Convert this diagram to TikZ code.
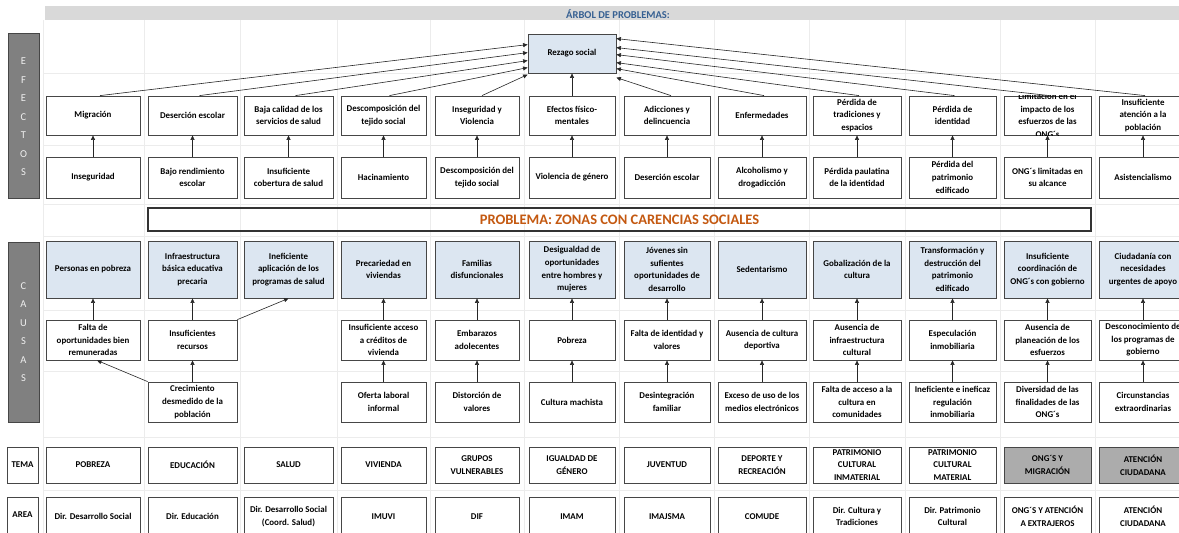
\documentclass[tikz,border=0pt]{standalone}
\usepackage{fontspec}
\setmainfont{Carlito}
\usetikzlibrary{arrows.meta,calc}
\definecolor{bluefill}{RGB}{220,230,241}
\definecolor{boxline}{RGB}{70,70,70}
\definecolor{titleblue}{RGB}{54,96,146}
\definecolor{probtxt}{RGB}{196,89,17}
\definecolor{sidefill}{RGB}{128,128,128}
\definecolor{temagray}{RGB}{172,172,172}
\definecolor{hdr}{RGB}{217,217,217}
\definecolor{gridc}{RGB}{236,236,236}
\tikzset{
  cellbox/.style={draw=boxline, line width=0.8pt, inner sep=0pt},
  bluebox/.style={cellbox, fill=bluefill},
  graybox/.style={cellbox, fill=temagray},
  celltext/.style={align=center, inner sep=0pt, font=\fontsize{8.9}{12.6}\selectfont\bfseries, text=black},
  arr/.style={-{Triangle[length=4.5pt,width=4pt]}, line width=0.6pt, black!85},
  sidebar/.style={draw=gray!55!black, fill=sidefill, line width=0.8pt},
  sideletter/.style={font=\fontsize{10.5}{12}\selectfont, text=white!88!gray, inner sep=0pt},
}
\newcommand\mycell[6]{%
  \pgfmathsetmacro\cL{{46,148,244,341,435,529,624,718,813,909,1004,1099}[#2]}%
  \pgfmathsetmacro\cR{{140,237,333,426,519,615,710,806,901,996,1091,1187}[#2]}%
  \pgfmathsetmacro\cW{\cR-\cL}%
  \pgfmathsetmacro\cH{#4-#3}%
  \pgfmathsetmacro\cX{(\cL+\cR)/2}%
  \pgfmathsetmacro\cY{(#3+#4)/2}%
  \node[#5, minimum width=\cW pt, minimum height=\cH pt] (#1) at (\cX,\cY) {};%
  \node[celltext] (#1t) at (#1.center) {#6};%
}
\begin{document}
\begin{tikzpicture}[x=1pt,y=-1pt]
\clip (0,0) rectangle (1179,533);
\fill[white] (0,0) rectangle (1179,533);
% faint spreadsheet grid
\foreach \gx in {43,144,240.5,337,430.5,524,619.5,714,809.5,905,1000,1095}
  \draw[gridc, line width=0.6pt] (\gx,20) -- (\gx,533);
\foreach \gy in {73,145,204,236,310,371,437,490}
  \draw[gridc, line width=0.6pt] (43,\gy) -- (1179,\gy);
% header
\fill[hdr] (45,6) rectangle (1179,20);
\node[font=\fontsize{10.5}{12}\selectfont\bfseries, text=titleblue, inner sep=0pt] (title) at (618,14) {ÁRBOL DE PROBLEMAS:};
% side bars
\draw[sidebar] (8,33) rectangle (39,198);
\foreach \L [count=\i from 0] in {E,F,E,C,T,O,S}
  \node[sideletter] (ef\i) at (23.5,{61.5+18.5*\i}) {\L};
\draw[sidebar] (8,242) rectangle (39,422);
\foreach \L [count=\i from 0] in {C,A,U,S,A,S}
  \node[sideletter] (cs\i) at (23.5,{286+18.5*\i}) {\L};
% central effect
\node[bluebox, minimum width=88pt, minimum height=39pt] (rz) at (572,53.5) {};
\node[celltext] (rzt) at (rz.center) {Rezago social};
% effects row 1
\mycell{ea0}{0}{96}{135}{cellbox}{Migración}
\mycell{ea1}{1}{96}{135}{cellbox}{Deserción escolar}
\mycell{ea2}{2}{96}{135}{cellbox}{Baja calidad de los\\servicios de salud}
\mycell{ea3}{3}{96}{135}{cellbox}{Descomposición del\\tejido social}
\mycell{ea4}{4}{96}{135}{cellbox}{Inseguridad y\\Violencia}
\mycell{ea5}{5}{96}{135}{cellbox}{Efectos físico-\\mentales}
\mycell{ea6}{6}{96}{135}{cellbox}{Adicciones y\\delincuencia}
\mycell{ea7}{7}{96}{135}{cellbox}{Enfermedades}
\mycell{ea8}{8}{96}{135}{cellbox}{Pérdida de\\tradiciones y\\espacios}
\mycell{ea9}{9}{96}{135}{cellbox}{Pérdida de\\identidad}
\node[cellbox, minimum width=87pt, minimum height=39pt] (ea10) at (1047.5,115.5) {};
\begin{scope}
  \clip (ea10.north west) rectangle (ea10.south east);
  \node[celltext] (ea10t) at (ea10.center) {Limitación en el\\impacto de los\\esfuerzos de las\\ONG´s};
\end{scope}
\mycell{ea11}{11}{96}{135}{cellbox}{Insuficiente\\atención a la\\población}
% effects row 2
\mycell{eb0}{0}{157}{198}{cellbox}{Inseguridad}
\mycell{eb1}{1}{157}{198}{cellbox}{Bajo rendimiento\\escolar}
\mycell{eb2}{2}{157}{198}{cellbox}{Insuficiente\\cobertura de salud}
\mycell{eb3}{3}{157}{198}{cellbox}{Hacinamiento}
\mycell{eb4}{4}{157}{198}{cellbox}{Descomposición del\\tejido social}
\mycell{eb5}{5}{157}{198}{cellbox}{Violencia de género}
\mycell{eb6}{6}{157}{198}{cellbox}{Deserción escolar}
\mycell{eb7}{7}{157}{198}{cellbox}{Alcoholismo y\\drogadicción}
\mycell{eb8}{8}{157}{198}{cellbox}{Pérdida paulatina\\de la identidad}
\mycell{eb9}{9}{157}{198}{cellbox}{Pérdida del\\patrimonio\\edificado}
\mycell{eb10}{10}{157}{198}{cellbox}{ONG´s limitadas en\\su alcance}
\mycell{eb11}{11}{157}{198}{cellbox}{Asistencialismo}
% problem
\node[draw=black!80, line width=1.2pt, minimum width=943pt, minimum height=23pt, inner sep=0pt] (prob) at (619.5,219.5) {};
\node[font=\fontsize{14.5}{16}\selectfont\bfseries, text=probtxt, inner sep=0pt] (probt) at (prob.center) {PROBLEMA: ZONAS CON CARENCIAS SOCIALES};
% causes row 1
\mycell{ca0}{0}{241}{298}{bluebox}{Personas en pobreza}
\mycell{ca1}{1}{241}{298}{bluebox}{Infraestructura\\básica educativa\\precaria}
\mycell{ca2}{2}{241}{298}{bluebox}{Ineficiente\\aplicación de los\\programas de salud}
\mycell{ca3}{3}{241}{298}{bluebox}{Precariedad en\\viviendas}
\mycell{ca4}{4}{241}{298}{bluebox}{Familias\\disfuncionales}
\mycell{ca5}{5}{241}{298}{bluebox}{Desigualdad de\\oportunidades\\entre hombres y\\mujeres}
\mycell{ca6}{6}{241}{298}{bluebox}{Jóvenes sin\\sufientes\\oportunidades de\\desarrollo}
\mycell{ca7}{7}{241}{298}{bluebox}{Sedentarismo}
\mycell{ca8}{8}{241}{298}{bluebox}{Gobalización de la\\cultura}
\mycell{ca9}{9}{241}{298}{bluebox}{Transformación y\\destrucción del\\patrimonio\\edificado}
\mycell{ca10}{10}{241}{298}{bluebox}{Insuficiente\\coordinación de\\ONG´s con gobierno}
\mycell{ca11}{11}{241}{298}{bluebox}{Ciudadanía con\\necesidades\\urgentes de apoyo}
% causes row 2
\mycell{cb0}{0}{320}{360}{cellbox}{Falta de\\oportunidades bien\\remuneradas}
\mycell{cb1}{1}{320}{360}{cellbox}{Insuficientes\\recursos}
\mycell{cb3}{3}{320}{360}{cellbox}{Insuficiente acceso\\a créditos de\\vivienda}
\mycell{cb4}{4}{320}{360}{cellbox}{Embarazos\\adolecentes}
\mycell{cb5}{5}{320}{360}{cellbox}{Pobreza}
\mycell{cb6}{6}{320}{360}{cellbox}{Falta de identidad y\\valores}
\mycell{cb7}{7}{320}{360}{cellbox}{Ausencia de cultura\\deportiva}
\mycell{cb8}{8}{320}{360}{cellbox}{Ausencia de\\infraestructura\\cultural}
\mycell{cb9}{9}{320}{360}{cellbox}{Especulación\\inmobiliaria}
\mycell{cb10}{10}{320}{360}{cellbox}{Ausencia de\\planeación de los\\esfuerzos}
\mycell{cb11}{11}{320}{360}{cellbox}{Desconocimiento de\\los programas de\\gobierno}
% causes row 3
\mycell{cc1}{1}{382}{422}{cellbox}{Crecimiento\\desmedido de la\\población}
\mycell{cc3}{3}{382}{422}{cellbox}{Oferta laboral\\informal}
\mycell{cc4}{4}{382}{422}{cellbox}{Distorción de\\valores}
\mycell{cc5}{5}{382}{422}{cellbox}{Cultura machista}
\mycell{cc6}{6}{382}{422}{cellbox}{Desintegración\\familiar}
\mycell{cc7}{7}{382}{422}{cellbox}{Exceso de uso de los\\medios electrónicos}
\mycell{cc8}{8}{382}{422}{cellbox}{Falta de acceso a la\\cultura en\\comunidades}
\mycell{cc9}{9}{382}{422}{cellbox}{Ineficiente e ineficaz\\regulación\\inmobiliaria}
\mycell{cc10}{10}{382}{422}{cellbox}{Diversidad de las\\finalidades de las\\ONG´s}
\mycell{cc11}{11}{382}{422}{cellbox}{Circunstancias\\extraordinarias}
% TEMA row
\node[cellbox, minimum width=31pt, minimum height=36pt] (tl) at (22.5,465) {};
\node[celltext] (tlt) at (tl.center) {TEMA};
\mycell{ta0}{0}{447}{483}{cellbox}{POBREZA}
\mycell{ta1}{1}{447}{483}{cellbox}{EDUCACIÓN}
\mycell{ta2}{2}{447}{483}{cellbox}{SALUD}
\mycell{ta3}{3}{447}{483}{cellbox}{VIVIENDA}
\mycell{ta4}{4}{447}{483}{cellbox}{GRUPOS\\VULNERABLES}
\mycell{ta5}{5}{447}{483}{cellbox}{IGUALDAD DE\\GÉNERO}
\mycell{ta6}{6}{447}{483}{cellbox}{JUVENTUD}
\mycell{ta7}{7}{447}{483}{cellbox}{DEPORTE Y\\RECREACIÓN}
\mycell{ta8}{8}{447}{483}{cellbox}{PATRIMONIO\\CULTURAL\\INMATERIAL}
\mycell{ta9}{9}{447}{483}{cellbox}{PATRIMONIO\\CULTURAL\\MATERIAL}
\mycell{ta10}{10}{447}{483}{graybox}{ONG´S Y\\MIGRACIÓN}
\mycell{ta11}{11}{447}{483}{graybox}{ATENCIÓN\\CIUDADANA}
% AREA row
\node[cellbox, minimum width=31pt, minimum height=39pt] (al) at (22.5,516.5) {};
\node[celltext] (alt) at (22.5,515) {AREA};
\mycell{aa0}{0}{497}{536}{cellbox}{Dir. Desarrollo Social}
\mycell{aa1}{1}{497}{536}{cellbox}{Dir. Educación}
\mycell{aa2}{2}{497}{536}{cellbox}{Dir. Desarrollo Social\\(Coord. Salud)}
\mycell{aa3}{3}{497}{536}{cellbox}{IMUVI}
\mycell{aa4}{4}{497}{536}{cellbox}{DIF}
\mycell{aa5}{5}{497}{536}{cellbox}{IMAM}
\mycell{aa6}{6}{497}{536}{cellbox}{IMAJSMA}
\mycell{aa7}{7}{497}{536}{cellbox}{COMUDE}
\mycell{aa8}{8}{497}{536}{cellbox}{Dir. Cultura y\\Tradiciones}
\mycell{aa9}{9}{497}{536}{cellbox}{Dir. Patrimonio\\Cultural}
\mycell{aa10}{10}{497}{536}{cellbox}{ONG´S Y ATENCIÓN\\A EXTRAJEROS}
\mycell{aa11}{11}{497}{536}{cellbox}{ATENCIÓN\\CIUDADANA}
% arrows: effects
\foreach \i in {0,...,11}
  \draw[arr] (eb\i.north) -- (ea\i.south);
\draw[arr] ($(ea0.north)+(7,0)$) -- ($(rz.north west)+(0,11)$);
\draw[arr] ($(ea1.north)+(7,0)$) -- ($(rz.north west)+(0,19)$);
\draw[arr] ($(ea2.north)+(7,0)$) -- ($(rz.north west)+(0,27)$);
\draw[arr] ($(ea3.north)+(6,0)$) -- ($(rz.north west)+(0,34)$);
\draw[arr] ($(ea4.north)+(5,0)$) -- ($(rz.north west)+(0,41)$);
\draw[arr] (ea5.north) -- (rz.south);
\draw[arr] ($(ea6.north)+(4,0)$) -- ($(rz.north east)+(0,44)$);
\draw[arr] ($(ea7.north)+(2,0)$) -- ($(rz.north east)+(0,35)$);
\draw[arr] ($(ea8.north)+(2,0)$) -- ($(rz.north east)+(0,29)$);
\draw[arr] ($(ea9.north)+(2,0)$) -- ($(rz.north east)+(0,21)$);
\draw[arr] ($(ea10.north)+(2,0)$) -- ($(rz.north east)+(0,14)$);
\draw[arr] ($(ea11.north)+(2,0)$) -- ($(rz.north east)+(0,5)$);
% arrows: causes
\foreach \i in {0,1,3,4,5,6,7,8,9,10,11}
  \draw[arr] (cb\i.north) -- (ca\i.south);
\foreach \i in {1,3,4,5,6,7,8,9,10,11}
  \draw[arr] (cc\i.north) -- (cb\i.south);
\draw[arr] (cc1.north west) -- ($(cb0.south)+(4,0)$);
\draw[arr] (cb1.north east) -- (ca2.south);
\end{tikzpicture}
\end{document}
